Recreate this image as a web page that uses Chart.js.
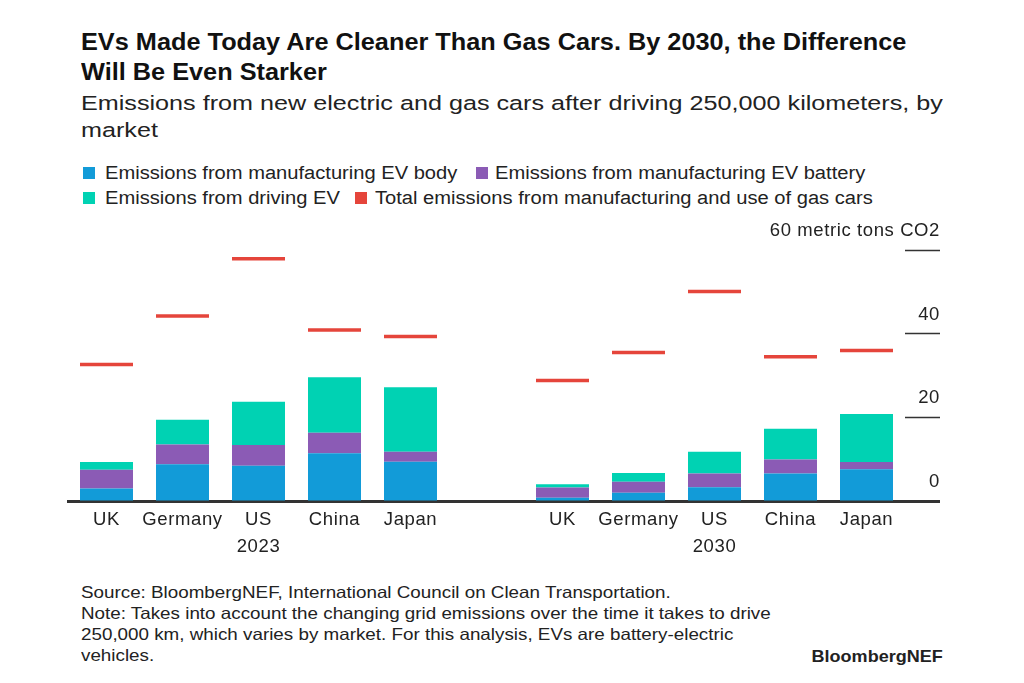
<!DOCTYPE html>
<html>
<head>
<meta charset="utf-8">
<script src="https://cdn.jsdelivr.net/npm/chart.js@4.4.1/dist/chart.umd.min.js"></script>
<style>
  body { margin: 0; background: #fff; font-family: "Liberation Sans", Arial, sans-serif; color: #111; }
  #page { position: relative; width: 1024px; height: 683px; overflow: hidden; }
  .t { position: absolute; white-space: nowrap; transform-origin: left top; }
  #title { left: 81px; top: 27px; font-size: 23px; line-height: 30px; font-weight: bold; transform: scaleX(1.1); }
  #sub { left: 81px; top: 89px; font-size: 20.5px; line-height: 27px; color: #222; transform: scaleX(1.228); }
  .sw { position: absolute; width: 12px; height: 12px; }
  .lt { font-size: 18px; line-height: 24px; color: #222; transform: scaleX(1.118); }
  #foot { left: 81px; top: 582px; font-size: 16.5px; line-height: 21px; color: #222; transform: scaleX(1.14); }
  #brand { right: 81px; top: 646px; font-size: 17px; line-height: 22px; font-weight: bold; color: #222; transform-origin: right top; transform: scaleX(1.06); }
  #chartWrap { position: absolute; left: 0; top: 210px; width: 1024px; height: 360px; }
</style>
</head>
<body>
<div id="page">
  <div class="t" id="title">EVs Made Today Are Cleaner Than Gas Cars. By 2030, the Difference<br>Will Be Even Starker</div>
  <div class="t" id="sub">Emissions from new electric and gas cars after driving 250,000 kilometers, by<br>market</div>
  <div id="legend"></div>
  <div id="chartWrap"><canvas id="evChart" width="1024" height="360"></canvas></div>
  <div class="t" id="foot">Source: BloombergNEF, International Council on Clean Transportation.<br>Note: Takes into account the changing grid emissions over the time it takes to drive<br>250,000 km, which varies by market. For this analysis, EVs are battery-electric<br>vehicles.</div>
  <div class="t" id="brand">BloombergNEF</div>
</div>
<script>
// markets, 2023 group then an empty gap then the 2030 group
var markets = ['UK', 'Germany', ['US', '2023'], 'China', 'Japan', '', 'UK', 'Germany', ['US', '2030'], 'China', 'Japan'];

// metric tons CO2
var evBody    = [3.0, 8.8, 8.4, 11.4, 9.4, null, 0.8, 2.0, 3.3, 6.6, 7.6];
var evBattery = [4.5, 4.7, 5.0, 4.9, 2.4, null, 2.4, 2.6, 3.3, 3.3, 1.7];
var evDriving = [1.8, 5.9, 10.3, 13.3, 15.4, null, 0.8, 2.1, 5.2, 7.4, 11.5];
var gasTotal  = [32.6, 44.2, 57.9, 40.9, 39.3, null, 28.8, 35.5, 50.1, 34.5, 36.0];

var yTicks = [0, 20, 40, 60];

var seriesNames = [
	'Emissions from manufacturing EV body',
	'Emissions from manufacturing EV battery',
	'Emissions from driving EV',
	'Total emissions from manufacturing and use of gas cars'
];
var colors = ['#129bd8', '#8b5bb5', '#00d2b3', '#e5453b'];

// legend placed like the original: [square x, text x, row center y]
var legendSpots = [[83, 105, 173], [476, 495, 173], [83, 105, 198], [355, 375, 198]];
var legendHtml = '';
legendSpots.forEach(function(p, i){
	legendHtml += '<div class="sw" style="left:' + p[0] + 'px;top:' + (p[2] - 6) + 'px;background:' + colors[i] + '"></div>';
	legendHtml += '<div class="t lt" style="left:' + p[1] + 'px;top:' + (p[2] - 12) + 'px">' + seriesNames[i] + '</div>';
});
document.getElementById('legend').innerHTML = legendHtml;

var barPct = 53 / 76;
var axisFont = { family: '"Liberation Sans", Arial, sans-serif', size: 18.5, lineHeight: 1.47 };

var spacing = {
	id: 'spacing',
	beforeUpdate: function(chart){ chart.ctx.letterSpacing = '0.6px'; },
	beforeDraw: function(chart){ chart.ctx.letterSpacing = '0.6px'; }
};

var config = {
	type: 'bar',
	data: {
		labels: markets,
		datasets: [
			{ label: seriesNames[0], data: evBody, backgroundColor: colors[0], stack: 'ev', barPercentage: barPct, categoryPercentage: 1 },
			{ label: seriesNames[1], data: evBattery, backgroundColor: colors[1], stack: 'ev', barPercentage: barPct, categoryPercentage: 1 },
			{ label: seriesNames[2], data: evDriving, backgroundColor: colors[2], stack: 'ev', barPercentage: barPct, categoryPercentage: 1 },
			{
				type: 'line',
				label: seriesNames[3],
				data: gasTotal,
				stack: 'gas',
				showLine: false,
				pointStyle: 'line',
				pointRadius: 26.5,
				pointHoverRadius: 26.5,
				pointBorderWidth: 3.5,
				pointHoverBorderWidth: 3.5,
				borderColor: colors[3],
				backgroundColor: colors[3],
				clip: false
			}
		]
	},
	options: {
		responsive: false,
		animation: false,
		layout: { padding: { top: 40, left: 68.5, right: 84, bottom: 0 } },
		plugins: {
			legend: { display: false },
			tooltip: { enabled: false },
			title: { display: false }
		},
		scales: {
			x: {
				stacked: true,
				offset: true,
				afterFit: function(s){ s.height = 69; s.paddingLeft = 0; s.paddingRight = 0; },
				grid: { drawOnChartArea: false, drawTicks: false },
				border: { display: true, color: '#333', width: 3 },
				ticks: {
					color: '#222',
					font: axisFont,
					padding: 5,
					maxRotation: 0,
					autoSkip: false
				}
			},
			y: {
				stacked: true,
				position: 'right',
				min: 0,
				max: 60,
				afterBuildTicks: function(scale){
					scale.ticks = yTicks.map(function(v){ return { value: v }; });
				},
				afterFit: function(s){ s.width = 35.5; s.paddingTop = 0; s.paddingBottom = 0; },
				grid: {
					drawOnChartArea: false,
					drawTicks: true,
					tickLength: 35.5,
					color: '#333',
					tickWidth: function(ctx){ return ctx.tick && ctx.tick.value === 0 ? 3 : 1.5; }
				},
				border: { display: false },
				ticks: {
					mirror: true,
					crossAlign: 'near',
					padding: 35.5,
					labelOffset: -19,
					color: '#222',
					font: axisFont,
					callback: function(v){ return v === 60 ? '60 metric tons CO2' : v; }
				}
			}
		}
	},
	plugins: [spacing]
};

var ctx = document.getElementById('evChart').getContext('2d');
window.evChart = new Chart(ctx, config);
</script>
</body>
</html>
